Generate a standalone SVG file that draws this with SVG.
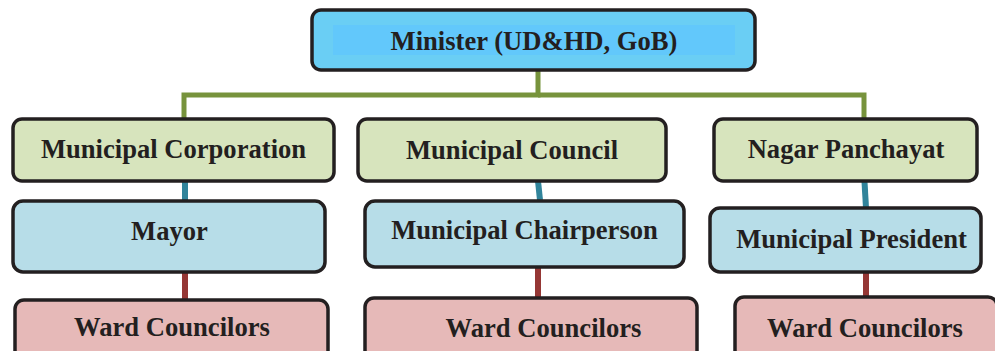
<svg xmlns="http://www.w3.org/2000/svg" width="995" height="351" viewBox="0 0 995 351">
<style>
.box{stroke:#231F20;stroke-width:3.5}
.g{fill:#D7E4BD}.b{fill:#B7DDE8}.p{fill:#E6B9B8}
text{font-family:"Liberation Serif","Times New Roman",serif;font-weight:bold;font-size:26.6px;fill:#231F20;text-anchor:middle}
.cg{stroke:#77933C;stroke-width:5;fill:none}
.cb{stroke:#31849B;stroke-width:6;fill:none}
.cr{stroke:#953735;stroke-width:6;fill:none}
</style>
<rect width="995" height="351" fill="#ffffff"/>
<g id="connectors">
<polyline class="cg" points="538,70 538,95 184,95 184,119"/>
<polyline class="cg" points="538,95 864,95 864,119"/>
<line class="cb" x1="185" y1="178" x2="185" y2="208"/>
<line class="cb" x1="538" y1="181" x2="540" y2="200"/>
<line class="cb" x1="864" y1="173" x2="866" y2="208"/>
<line class="cr" x1="185" y1="254" x2="185" y2="300"/>
<line class="cr" x1="538" y1="254" x2="538" y2="298"/>
<line class="cr" x1="866" y1="272" x2="866" y2="298"/>
</g>
<g id="minister">
<rect class="box" x="312" y="10" width="443" height="60" rx="9" fill="#6ACEF4"/>
<rect x="333" y="25" width="402" height="30" fill="#62C8FB"/>
<text x="534" y="50">Minister (UD&amp;HD, GoB)</text>
</g>
<g id="municipal-corporation">
<rect class="box g" x="13" y="119" width="321" height="62" rx="9"/>
<text x="173.5" y="158">Municipal Corporation</text>
</g>
<g id="municipal-council">
<rect class="box g" x="358" y="119" width="308" height="62" rx="9"/>
<text x="512" y="159">Municipal Council</text>
</g>
<g id="nagar-panchayat">
<rect class="box g" x="714" y="119" width="263" height="62" rx="9"/>
<text x="846" y="158">Nagar Panchayat</text>
</g>
<g id="mayor">
<rect class="box b" x="13" y="201" width="312" height="71" rx="10"/>
<text x="169.5" y="240">Mayor</text>
</g>
<g id="municipal-chairperson">
<rect class="box b" x="365" y="201" width="319" height="66" rx="10"/>
<text x="524.5" y="239">Municipal Chairperson</text>
</g>
<g id="municipal-president">
<rect class="box b" x="710" y="208" width="271" height="64" rx="10"/>
<text x="851.5" y="248">Municipal President</text>
</g>
<g id="ward-1">
<rect class="box p" x="15" y="300" width="313" height="62" rx="9"/>
<text x="172" y="336">Ward Councilors</text>
</g>
<g id="ward-2">
<rect class="box p" x="365" y="298" width="332" height="64" rx="9"/>
<text x="543.5" y="337">Ward Councilors</text>
</g>
<g id="ward-3">
<rect class="box p" x="735" y="297" width="262" height="65" rx="9"/>
<text x="865" y="337">Ward Councilors</text>
</g>
</svg>
